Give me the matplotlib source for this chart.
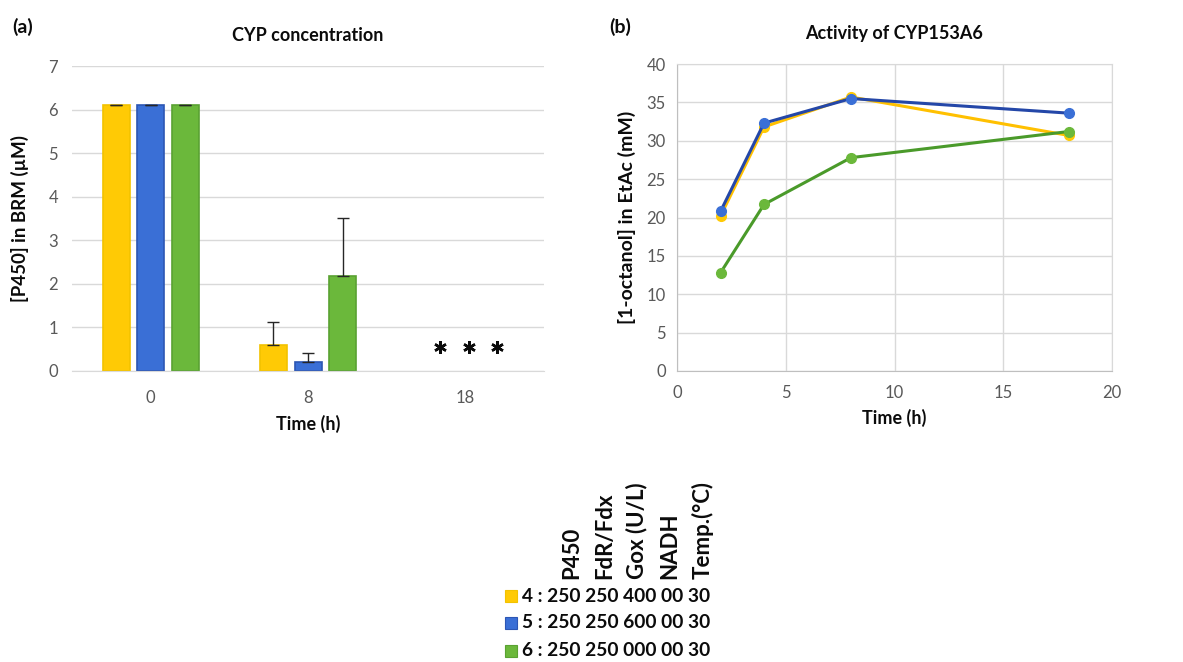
import matplotlib.pyplot as plt
import numpy as np
from matplotlib.patches import Rectangle

# ---------------------------------------------------------------------------
# Data
# ---------------------------------------------------------------------------
bar_times = ["0", "8", "18"]
p450_yellow = [6.10, 0.60, 0.0]
p450_blue = [6.10, 0.20, 0.0]
p450_green = [6.10, 2.18, 0.0]
err_yellow = [0.01, 0.52, 0.0]
err_blue = [0.01, 0.22, 0.0]
err_green = [0.01, 1.32, 0.0]
not_detected_level = 0.55

act_time = [2, 4, 8, 18]
oct_yellow = [20.2, 31.8, 35.7, 30.7]
oct_blue = [20.8, 32.3, 35.5, 33.6]
oct_green = [12.8, 21.7, 27.8, 31.2]

legend_rows = ["4 : 250 250 400 00 30", "5 : 250 250 600 00 30", "6 : 250 250 000 00 30"]
legend_header = ["P450", "FdR/Fdx", "Gox (U/L)", "NADH", "Temp.(°C)"]

# ---------------------------------------------------------------------------
# Style
# ---------------------------------------------------------------------------
YEL, YEL_E, YEL_L = "#FFCA05", "#F2C200", "#FFC000"
BLU, BLU_E, BLU_L = "#3A6FD6", "#2C56B4", "#2447A8"
GRN, GRN_E, GRN_L = "#6BB83B", "#5AA232", "#4A9A2A"
GRID = "#D9D9D9"
TICK = "#595959"
INK = "#0b0b0b"

plt.rcParams.update({"font.family": ["Lato", "DejaVu Sans"]})

fig = plt.figure(figsize=(11.83, 6.62), dpi=100)

# ---------------------------------------------------------------------------
# (a) CYP concentration
# ---------------------------------------------------------------------------
ax1 = fig.add_axes([0.0609, 0.4396, 0.399, 0.4607])
x = np.arange(len(bar_times))
w = 0.172
off = 0.22
for vals, errs, fc, ec, dx in [
    (p450_yellow, err_yellow, YEL, YEL_E, -off),
    (p450_blue, err_blue, BLU, BLU_E, 0),
    (p450_green, err_green, GRN, GRN_E, off),
]:
    ax1.bar(x[:2] + dx, vals[:2], width=w, color=fc, edgecolor=ec, linewidth=1.2, zorder=2)
    ax1.errorbar(x[:2] + dx, vals[:2], yerr=[[0, 0], errs[:2]], fmt="none",
                 ecolor="#262626", elinewidth=1, capsize=4, capthick=1, zorder=3)

# "*" = not detected at 18 h
ax1.plot(x[2] + np.array([-0.16, 0.02, 0.2]), [not_detected_level] * 3, linestyle="none",
         marker=(6, 2, 0), markersize=9, markeredgewidth=1.8, color=INK)

ax1.set_xlim(-0.5, 2.5)
ax1.set_ylim(0, 7)
ax1.set_yticks(range(0, 8))
ax1.set_xticks(x)
ax1.set_xticklabels(bar_times)
ax1.grid(axis="y", color=GRID, linewidth=1)
ax1.set_axisbelow(True)
for s in ["top", "right", "left"]:
    ax1.spines[s].set_visible(False)
ax1.spines["bottom"].set_color(GRID)
ax1.tick_params(length=0, labelsize=12, colors=TICK, pad=10)
ax1.tick_params(axis="x", pad=14)
ax1.set_xlabel("Time (h)", fontsize=13, fontweight="bold", color=INK, labelpad=6)
ax1.set_ylabel("[P450] in BRM (µM)", fontsize=13.5, fontweight="bold", color=INK, labelpad=14)
ax1.set_title("CYP concentration", fontsize=13, fontweight="bold", color=INK, pad=18)
fig.text(0.010, 0.950, "(a)", fontsize=14, fontweight="bold", color=INK)

# ---------------------------------------------------------------------------
# (b) Activity of CYP153A6
# ---------------------------------------------------------------------------
ax2 = fig.add_axes([0.5723, 0.4396, 0.3677, 0.4637])
for vals, lc, mc in [(oct_yellow, YEL_L, YEL), (oct_blue, BLU_L, BLU), (oct_green, GRN_L, GRN)]:
    ax2.plot(act_time, vals, color=lc, linewidth=2.2, marker="o", markersize=7,
             markerfacecolor=mc, markeredgecolor=mc, zorder=3)
ax2.set_xlim(0, 20)
ax2.set_ylim(0, 40)
ax2.set_xticks(range(0, 21, 5))
ax2.set_yticks(range(0, 41, 5))
ax2.grid(color=GRID, linewidth=1)
ax2.set_axisbelow(True)
for s in ax2.spines.values():
    s.set_color(GRID)
ax2.spines["left"].set_color("#BFBFBF")
ax2.spines["bottom"].set_color("#BFBFBF")
ax2.tick_params(length=0, labelsize=12, colors=TICK, pad=8)
ax2.tick_params(axis="x", pad=10)
ax2.set_xlabel("Time (h)", fontsize=13, fontweight="bold", color=INK, labelpad=6)
ax2.set_ylabel("[1-octanol] in EtAc (mM)", fontsize=14, fontweight="bold", color=INK, labelpad=8)
ax2.set_title("Activity of CYP153A6", fontsize=13, fontweight="bold", color=INK, pad=18)
fig.text(0.515, 0.950, "(b)", fontsize=14, fontweight="bold", color=INK)

# ---------------------------------------------------------------------------
# Legend with rotated column headers
# ---------------------------------------------------------------------------
hdr_x = [572, 605, 637, 670, 703]
for label, px in zip(legend_header, hdr_x):
    fig.text(px / 1183, 1 - 579 / 662, label, rotation=90, ha="center", va="bottom",
             fontsize=16, fontweight="bold", color=INK)

row_y = [596, 623, 651]
for label, fc, ec, py in zip(legend_rows, [YEL, BLU, GRN], [YEL_E, BLU_E, GRN_E], row_y):
    fig.patches.append(Rectangle((505 / 1183, 1 - (py + 6) / 662), 12 / 1183, 12 / 662,
                                 transform=fig.transFigure, facecolor=fc, edgecolor=ec,
                                 linewidth=0.8))
    fig.text(522 / 1183, 1 - py / 662, label, ha="left", va="center",
             fontsize=13.8, fontweight="bold", color=INK)

fig.savefig("out.png", dpi=100)
